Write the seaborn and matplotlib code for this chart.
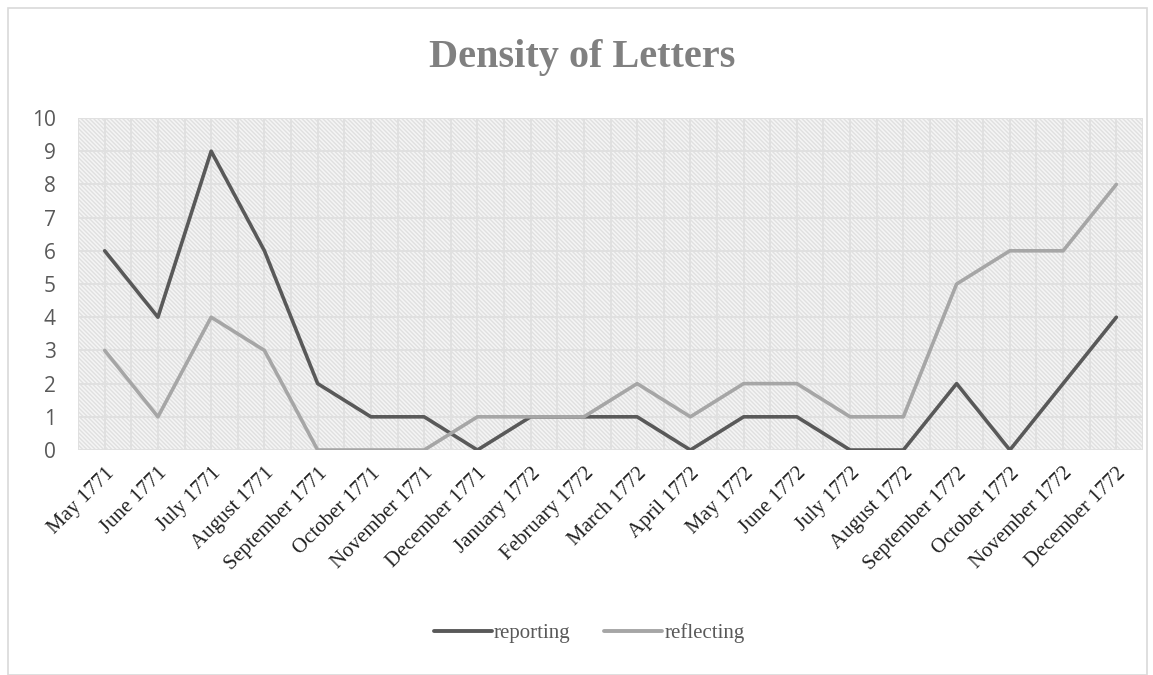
import matplotlib
matplotlib.use("Agg")
import matplotlib.pyplot as plt
from matplotlib.patches import Rectangle
from matplotlib.lines import Line2D
import numpy as np
import pandas as pd
import seaborn as sns

# data
months = ["May 1771", "June 1771", "July 1771", "August 1771", "September 1771",
          "October 1771", "November 1771", "December 1771", "January 1772",
          "February 1772", "March 1772", "April 1772", "May 1772", "June 1772",
          "July 1772", "August 1772", "September 1772", "October 1772",
          "November 1772", "December 1772"]
reporting = [6, 4, 9, 6, 2, 1, 1, 0, 1, 1, 1, 0, 1, 1, 0, 0, 2, 0, 2, 4]
reflecting = [3, 1, 4, 3, 0, 0, 0, 1, 1, 1, 2, 1, 2, 2, 1, 1, 5, 6, 6, 8]

df = pd.DataFrame({"idx": np.arange(len(months)), "reporting": reporting, "reflecting": reflecting})
long = df.melt(id_vars="idx", var_name="series", value_name="count")

sns.set_theme(style="white")
serif = ["Liberation Serif", "DejaVu Serif"]
sans = ["Open Sans", "DejaVu Sans"]
txt = "#595959"

fig = plt.figure(figsize=(11.53, 6.75), dpi=100)
ax = fig.add_axes([0.0677, 0.3333, 0.9236, 0.4919])

# hatched background like the Excel pattern fill
ax.set_facecolor("#f5f5f5")
bg = Rectangle((0, 0), 1, 1, transform=ax.transAxes, facecolor="none",
               edgecolor="#e0e0e0", hatch="\\\\\\\\\\\\\\\\", linewidth=0, zorder=0)
ax.add_patch(bg)

# grid: horizontal on integers, vertical every half category
for y in range(0, 11):
    ax.axhline(y, color="#e0e0e0", lw=1.4, zorder=1)
for x in np.arange(-0.5, 20.0, 0.5):
    ax.axvline(x, color="#e0e0e0", lw=1.4, zorder=1)

sns.lineplot(data=long, x="idx", y="count", hue="series",
             palette={"reporting": "#595959", "reflecting": "#a6a6a6"},
             linewidth=2.6, ax=ax, legend=False, zorder=3)

ax.set_xlim(-0.5, len(months) - 0.5)
ax.set_ylim(0, 10)
ax.set_yticks(range(0, 11))
ax.set_xticks(range(len(months)))
ax.set_xticklabels(months, rotation=45, ha="right", rotation_mode="anchor",
                   family=serif, fontsize=15, color="#222222")
for lab in ax.get_yticklabels():
    lab.set_family(sans)
    lab.set_fontsize(15)
    lab.set_color(txt)
ax.tick_params(axis="x", length=0, pad=10)
ax.tick_params(axis="y", length=0, pad=16)
ax.set_xlabel("")
ax.set_ylabel("")
for s in ax.spines.values():
    s.set_visible(False)

fig.text(0.505, 0.915, "Density of Letters", ha="center", va="center",
         family=serif, fontsize=29, fontweight="bold", color="#808080")

handles = [Line2D([], [], color="#595959", lw=2.8), Line2D([], [], color="#a6a6a6", lw=2.8)]
fig.legend(handles, ["reporting", "reflecting"], loc="center", bbox_to_anchor=(0.511, 0.062),
           ncol=2, frameon=False, handlelength=2.8, handletextpad=0.1, columnspacing=1.6,
           prop={"family": serif, "size": 15}, labelcolor=txt)

# figure frame
fig.patches.append(Rectangle((0.007, 0.0), 0.988, 0.988, transform=fig.transFigure,
                             facecolor="none", edgecolor="#d9d9d9", lw=1.2))

fig.savefig("out.png", dpi=100)
